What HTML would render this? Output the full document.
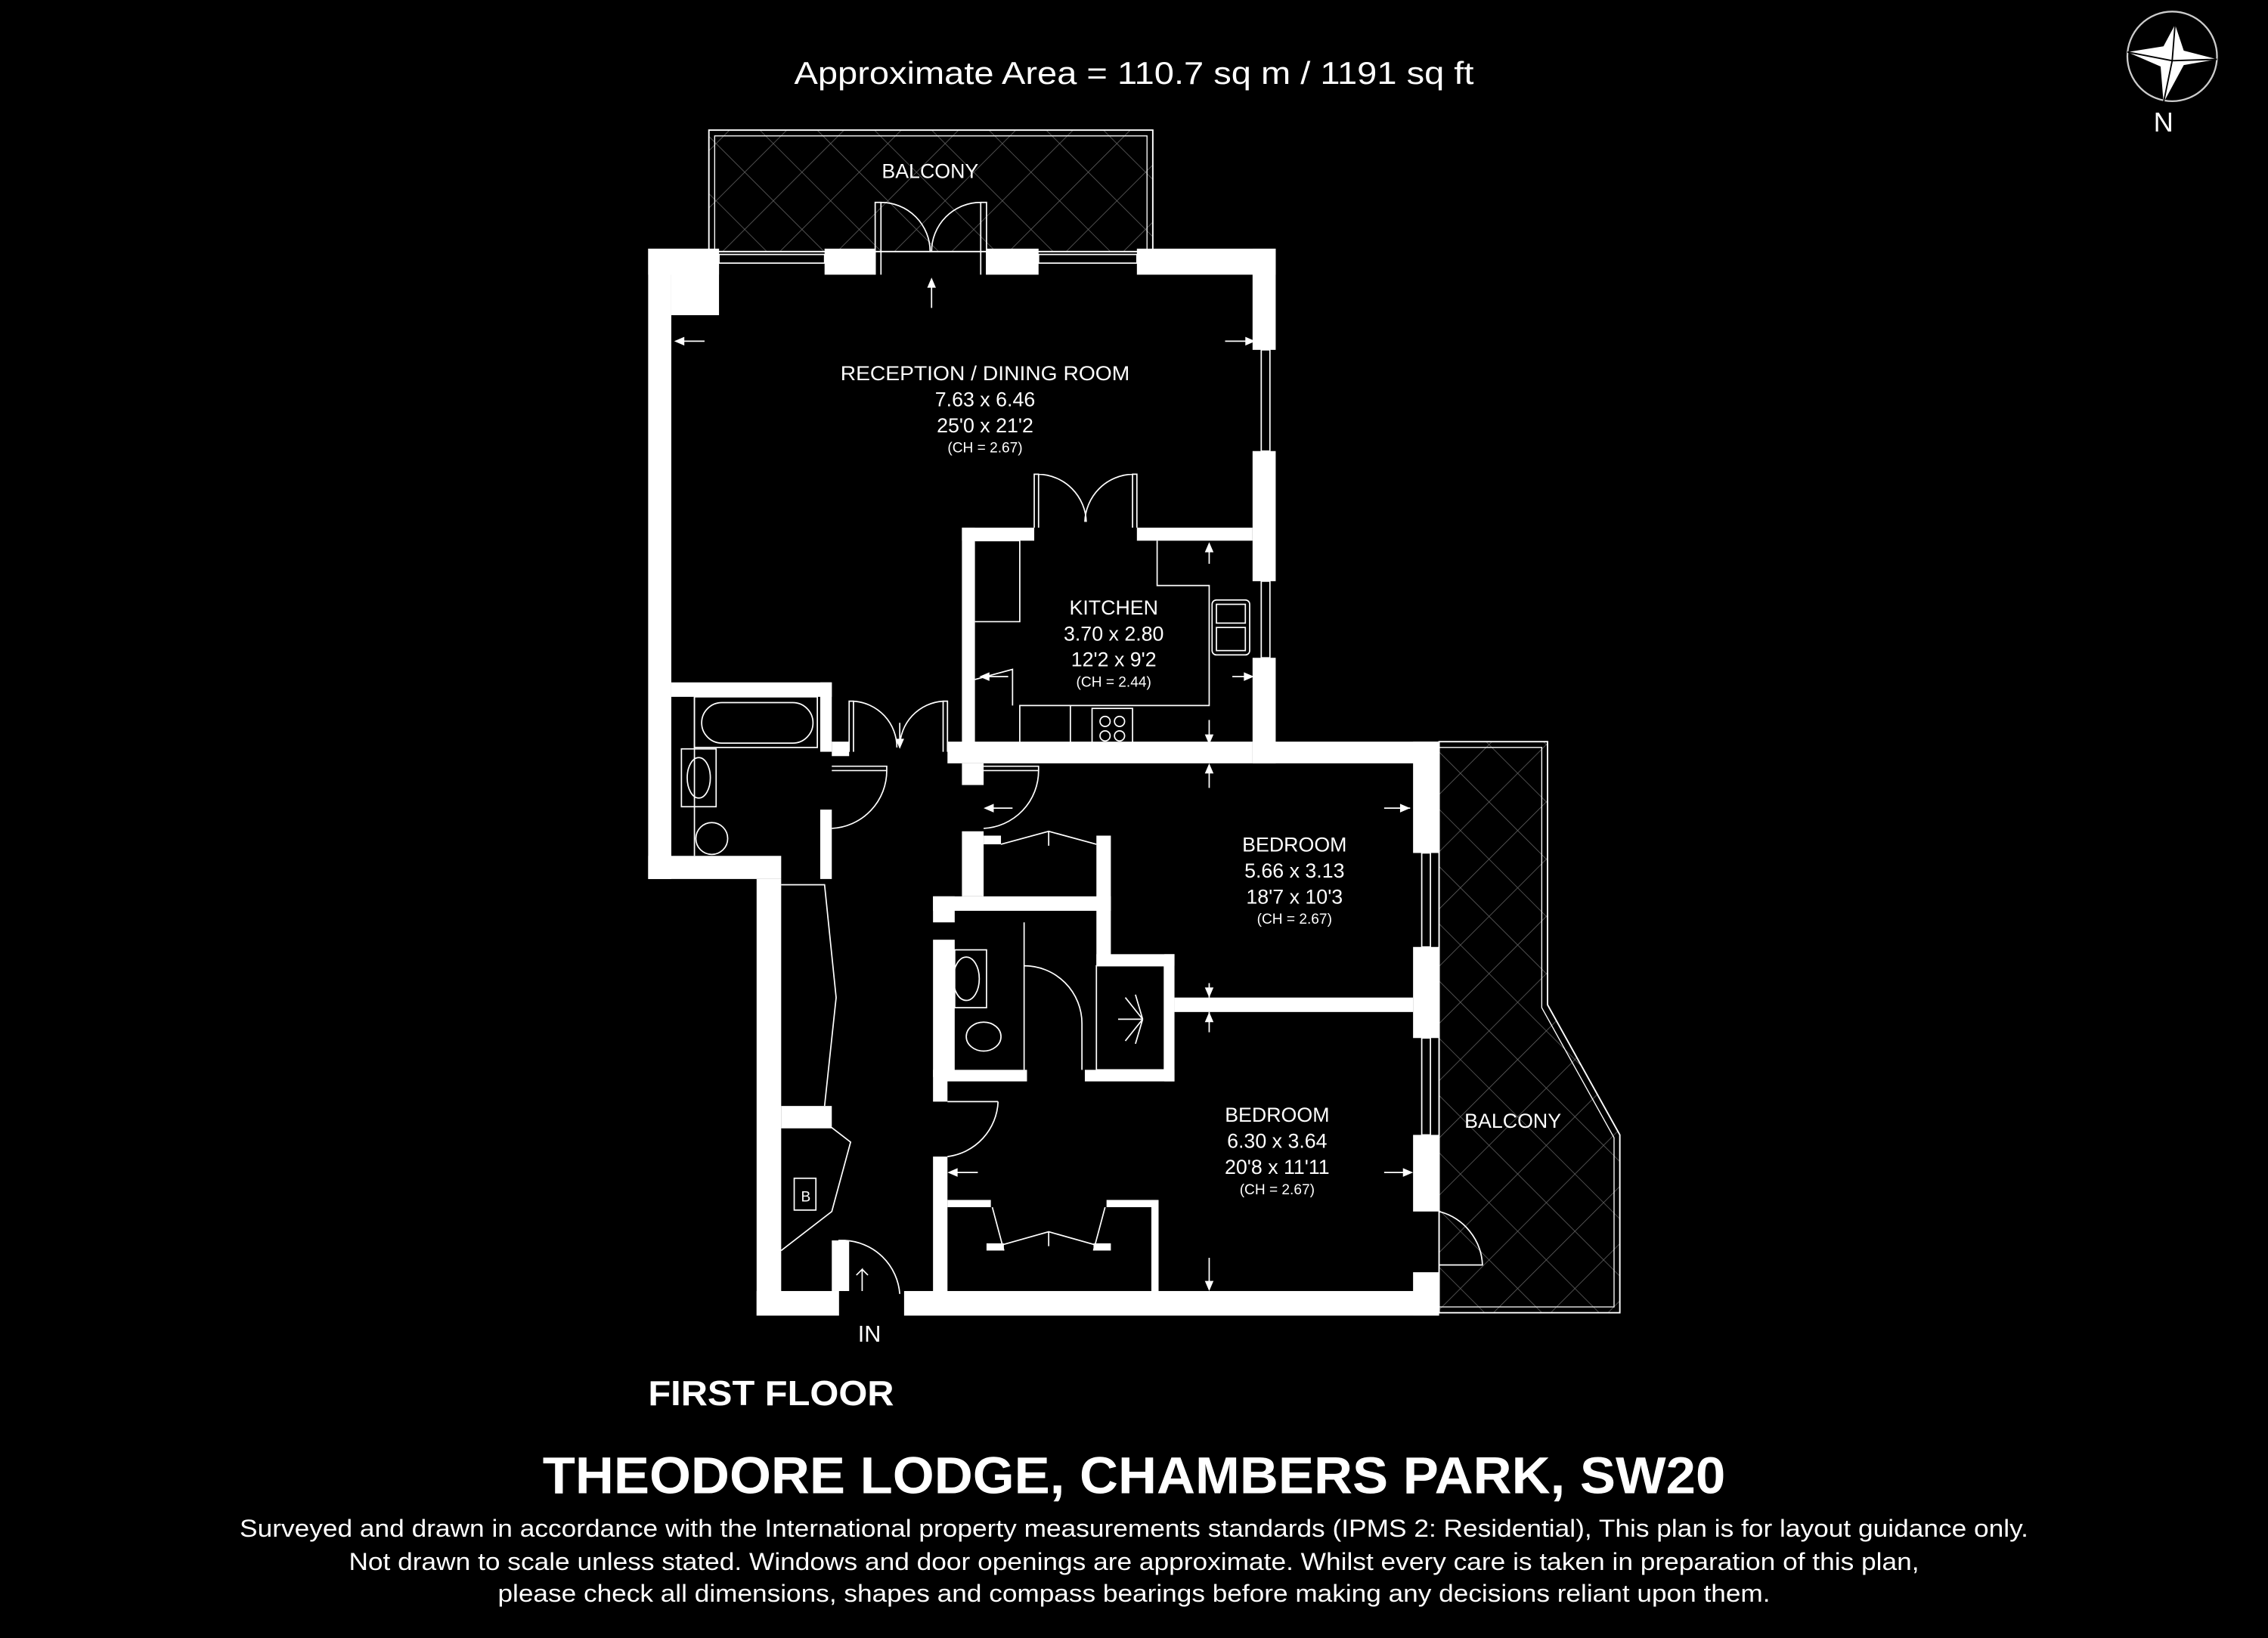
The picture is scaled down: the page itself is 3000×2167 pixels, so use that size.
<!DOCTYPE html>
<html><head><meta charset="utf-8"><style>
html,body{margin:0;padding:0;background:#000;}
svg{display:block;}
text{font-family:"Liberation Sans",sans-serif;fill:#fff;}
</style></head><body>
<svg width="3000" height="2167" viewBox="0 0 1568 1133" xmlns="http://www.w3.org/2000/svg">
<defs>
<pattern id="hatch" width="28" height="28" patternUnits="userSpaceOnUse" patternTransform="rotate(45)">
<rect width="28" height="28" fill="#000"/>
<line x1="0" y1="0" x2="0" y2="28" stroke="#666" stroke-width="0.8"/>
<line x1="0" y1="0" x2="28" y2="0" stroke="#666" stroke-width="0.8"/>
</pattern>
</defs>
<rect width="1568" height="1133" fill="#000"/>

<rect x="490" y="90" width="307" height="84" fill="url(#hatch)" stroke="#fff" stroke-width="1"/>
<rect x="494" y="94" width="299" height="80" fill="none" stroke="#fff" stroke-width="0.7"/>
<polygon points="995,513 1070,513 1070,695 1120,785 1120,908 995,908" fill="url(#hatch)" stroke="#fff" stroke-width="1"/>
<polygon points="995,517 1066,517 1066,697 1116,787 1116,904 995,904" fill="none" stroke="#fff" stroke-width="0.7"/>

<g fill="#fff">
<rect x="448" y="172" width="49" height="18"/>
<rect x="464" y="172" width="33" height="46"/>
<rect x="570" y="172" width="35" height="18"/>
<rect x="682" y="172" width="36" height="18"/>
<rect x="786" y="172" width="96" height="18"/>
<rect x="448" y="172" width="16" height="436"/>
<rect x="448" y="592" width="92" height="16"/>
<rect x="866" y="172" width="16" height="70"/>
<rect x="866" y="312" width="16" height="90"/>
<rect x="866" y="455" width="16" height="73"/>
<rect x="866" y="513" width="129" height="15"/>
<rect x="977" y="513" width="18" height="77"/>
<rect x="977" y="655" width="18" height="63"/>
<rect x="977" y="785" width="18" height="53"/>
<rect x="977" y="880" width="18" height="30"/>
<rect x="625" y="893" width="370" height="17"/>
<rect x="523" y="893" width="57" height="17"/>
<rect x="523" y="608" width="17" height="302"/>
<rect x="464" y="472" width="111" height="10"/>
<rect x="567" y="472" width="8" height="48"/>
<rect x="567" y="560" width="8" height="48"/>
<rect x="575" y="513" width="12" height="10"/>
<rect x="655" y="513" width="211" height="15"/>
<rect x="665" y="365" width="50" height="9"/>
<rect x="786" y="365" width="80" height="9"/>
<rect x="665" y="365" width="9" height="155"/>
<rect x="665" y="528" width="15" height="15"/>
<rect x="665" y="575" width="15" height="45"/>
<rect x="680" y="578" width="12" height="6"/>
<rect x="758" y="578" width="10" height="52"/>
<rect x="645" y="620" width="123" height="10"/>
<rect x="645" y="620" width="15" height="18"/>
<rect x="645" y="650" width="15" height="95"/>
<rect x="758" y="620" width="10" height="48"/>
<rect x="758" y="660" width="54" height="8"/>
<rect x="805" y="660" width="7" height="88"/>
<rect x="812" y="690" width="165" height="10"/>
<rect x="650" y="740" width="60" height="8"/>
<rect x="750" y="740" width="62" height="8"/>
<rect x="645" y="740" width="10" height="22"/>
<rect x="645" y="800" width="10" height="95"/>
<rect x="655" y="830" width="30" height="5"/>
<rect x="765" y="830" width="35" height="5"/>
<rect x="796" y="830" width="5" height="65"/>
<rect x="682" y="860" width="12" height="5"/>
<rect x="756" y="860" width="12" height="5"/>
<rect x="540" y="765" width="35" height="15"/>
<rect x="575" y="858" width="12" height="35"/>
</g>

<g fill="none" stroke="#fff" stroke-width="0.9">
<rect x="497" y="176" width="73" height="6"/>
<rect x="718" y="176" width="68" height="6"/>
<rect x="872" y="242" width="6" height="70"/>
<rect x="872" y="402" width="6" height="53"/>
<rect x="983" y="590" width="6" height="65"/>
<rect x="983" y="718" width="6" height="67"/>
<path d="M605,190 V140 H609 V190 M609,140 A34,34 0 0 1 643,174"/>
<path d="M682,190 V140 H678 V190 M678,140 A34,34 0 0 0 644,174"/>
<path d="M715,365 V328 H718 V365 M718,328 A34,34 0 0 1 751,361"/>
<path d="M786,365 V328 H783 V365 M783,328 A34,34 0 0 0 750,361"/>
<path d="M587,520 V485 H590 V520 M590,485 A32,32 0 0 1 620,517"/>
<path d="M655,520 V485 H652 V520 M652,485 A32,32 0 0 0 622,517"/>
<path d="M575,530 H613 V533 H575 M613,533 A40,40 0 0 1 575,573"/>
<path d="M680,530 H718 V533 H680 M718,533 A40,40 0 0 1 680,573"/>
<path d="M708,638 V740 M708,668 A40,40 0 0 1 748,708 V740"/>
<path d="M655,762 H690 M690,762 A40,40 0 0 1 655,800"/>
<path d="M995,838 A40,40 0 0 1 1025,875 H995"/>
<path d="M580,893 V858 H584 V893 M584,858 A40,40 0 0 1 622,895"/>
<path d="M674,374 H705 V430 H674"/>
<path d="M800,374 V405 H836 V488 H705 V520"/>
<path d="M740,488 V520"/>
<path d="M674,470 L700,463 V488"/>
<rect x="755" y="490" width="28" height="28"/>
<circle cx="764" cy="499" r="3.5"/><circle cx="774" cy="499" r="3.5"/>
<circle cx="764" cy="509" r="3.5"/><circle cx="774" cy="509" r="3.5"/>
<rect x="838" y="415" width="26" height="38" rx="3"/>
<rect x="841" y="418" width="20" height="13"/><rect x="841" y="434" width="20" height="16"/>
<rect x="480" y="482" width="85" height="35"/>
<rect x="485" y="486" width="77" height="28" rx="14"/>
<rect x="471" y="518" width="24" height="40"/>
<ellipse cx="483" cy="538" rx="8" ry="14"/>
<ellipse cx="492" cy="580" rx="11" ry="11"/>
<path d="M480,482 V592"/>
<path d="M692,584 L725,575 L758,584 M725,575 V585"/>
<path d="M540,612 H570 L578,690 L570,765"/>
<path d="M540,780 H575 L588,790 L575,838 L540,865"/>
<rect x="549" y="815" width="15" height="22"/>
<path d="M694,865 L686,835 M756,865 L764,835 M686,863 L725,852 L764,863 M725,852 V862"/>
<rect x="660" y="657" width="22" height="40"/>
<ellipse cx="668" cy="677" rx="9" ry="15"/>
<ellipse cx="680" cy="717" rx="12" ry="10"/>
<rect x="758" y="668" width="47" height="72"/>
<path d="M790,705 L773,705 M790,705 L778,690 M790,705 L778,720 M790,705 L785,688 M790,705 L785,722"/>
<path d="M644,195 V213 M469,236 H487 M847,236 H865 M836,378 V390 M836,498 V512 M681,468 H697 M852,468 H865 M836,531 V545 M836,680 V690 M836,700 V714 M660,811 H676 M957,811 H975 M957,559 H975 M683,559 H700 M836,870 V892 M622,500 V515"/>
<path d="M596,893 V878 L592,882 M596,878 L600,882"/>
</g>
<g fill="#fff">
<polygon points="644,192 641,199 647,199"/><polygon points="466,236 473,233 473,239"/><polygon points="868,236 861,233 861,239"/>
<polygon points="836,375 833,382 839,382"/><polygon points="836,515 833,508 839,508"/>
<polygon points="677,468 684,465 684,471"/><polygon points="867,468 860,465 860,471"/>
<polygon points="975,559 968,556 968,562"/><polygon points="680,559 687,556 687,562"/>
<polygon points="655,811 662,808 662,814"/><polygon points="977,811 970,808 970,814"/>
<polygon points="836,528 833,535 839,535"/><polygon points="836,893 833,886 839,886"/>
<polygon points="836,690 833,683 839,683"/><polygon points="836,700 833,707 839,707"/>
<polygon points="622,518 619,511 625,511"/>
</g>

<circle cx="1502" cy="39" r="31" fill="none" stroke="#ccc" stroke-width="1.2"/>
<polygon points="1504,17 1510,35 1533,41 1510,45 1496,71 1494,46 1471,36 1496,32" fill="#fff"/>
<path d="M1504,17 L1502,42 M1533,41 L1502,42 M1496,71 L1502,42 M1471,36 L1502,42" stroke="#000" stroke-width="1"/>
<text x="1496" y="91" font-size="19" text-anchor="middle">N</text>

<text x="784" y="58" font-size="22" text-anchor="middle" textLength="470" lengthAdjust="spacingAndGlyphs">Approximate Area = 110.7 sq m / 1191 sq ft</text>
<text x="643" y="123" font-size="14" text-anchor="middle">BALCONY</text>
<g text-anchor="middle">
<text x="681" y="263" font-size="14" textLength="200" lengthAdjust="spacingAndGlyphs">RECEPTION / DINING ROOM</text>
<text x="681" y="281" font-size="14">7.63 x 6.46</text>
<text x="681" y="299" font-size="14">25'0 x 21'2</text>
<text x="681" y="313" font-size="10">(CH = 2.67)</text>
<text x="770" y="425" font-size="14">KITCHEN</text>
<text x="770" y="443" font-size="14">3.70 x 2.80</text>
<text x="770" y="461" font-size="14">12'2 x 9'2</text>
<text x="770" y="475" font-size="10">(CH = 2.44)</text>
<text x="895" y="589" font-size="14">BEDROOM</text>
<text x="895" y="607" font-size="14">5.66 x 3.13</text>
<text x="895" y="625" font-size="14">18'7 x 10'3</text>
<text x="895" y="639" font-size="10">(CH = 2.67)</text>
<text x="883" y="776" font-size="14">BEDROOM</text>
<text x="883" y="794" font-size="14">6.30 x 3.64</text>
<text x="883" y="812" font-size="14">20'8 x 11'11</text>
<text x="883" y="826" font-size="10">(CH = 2.67)</text>
<text x="1046" y="780" font-size="14">BALCONY</text>
<text x="557" y="831" font-size="10">B</text>
<text x="601" y="928" font-size="16">IN</text>
</g>
<text x="448" y="972" font-size="24" font-weight="bold" textLength="170" lengthAdjust="spacingAndGlyphs">FIRST FLOOR</text>
<text x="784" y="1033" font-size="36" font-weight="bold" text-anchor="middle" textLength="818" lengthAdjust="spacingAndGlyphs">THEODORE LODGE, CHAMBERS PARK, SW20</text>
<text x="784" y="1063" font-size="17" text-anchor="middle" textLength="1237" lengthAdjust="spacingAndGlyphs">Surveyed and drawn in accordance with the International property measurements standards (IPMS 2: Residential), This plan is for layout guidance only.</text>
<text x="784" y="1086" font-size="17" text-anchor="middle" textLength="1086" lengthAdjust="spacingAndGlyphs">Not drawn to scale unless stated. Windows and door openings are approximate. Whilst every care is taken in preparation of this plan,</text>
<text x="784" y="1108" font-size="17" text-anchor="middle" textLength="880" lengthAdjust="spacingAndGlyphs">please check all dimensions, shapes and compass bearings before making any decisions reliant upon them.</text>
</svg>
</body></html>
